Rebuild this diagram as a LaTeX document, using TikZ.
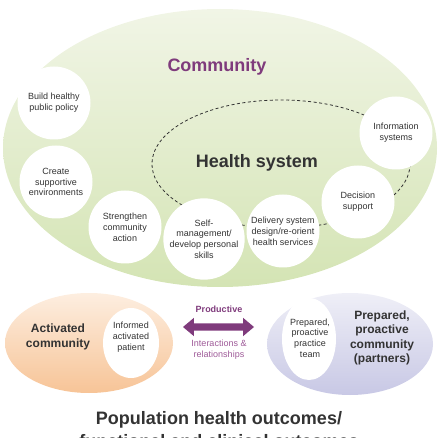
\documentclass[tikz,border=0pt]{standalone}
\usepackage{fontspec}
\setmainfont{Liberation Sans}
\usepackage{xcolor}
\usetikzlibrary{shapes.geometric,shapes.arrows}

\definecolor{plum}{HTML}{7F3B7C}
\definecolor{plumsoft}{HTML}{9E5A98}
\definecolor{ink}{HTML}{333333}
\definecolor{grtop}{HTML}{F1F5E6}
\definecolor{grbot}{HTML}{D4E4B4}
\definecolor{ortop}{HTML}{FDEEE0}
\definecolor{orbot}{HTML}{F7C497}
\definecolor{lvtop}{HTML}{EFEFF7}
\definecolor{lvbot}{HTML}{C8C8E5}

\begin{document}
\begin{tikzpicture}[x=1pt, y=-1pt,
        blob/.style={circle, fill=white, minimum size=73pt, inner sep=1pt, align=center, text=ink, font=\fontsize{9}{10.8}\selectfont},
        head/.style={font=\bfseries\fontsize{18}{21}\selectfont, text=ink, align=center},
        sub/.style={font=\bfseries\fontsize{12}{14.5}\selectfont, text=ink, align=center},
        small/.style={font=\fontsize{9}{10.8}\selectfont, text=ink, align=center},
        pool/.style={ellipse, inner sep=0pt},
    ]
        \useasboundingbox (0,0) rectangle (439,438);
        \node[pool, minimum width=434, minimum height=278, top color=grtop, bottom color=grbot] (comm) at (220,148) {};
        \node[head, text=plum] (commtitle) at (217,67) {Community};
        \draw[ink, line width=0.8pt, dash pattern=on 3pt off 2.5pt] (281,164) ellipse [x radius=129, y radius=64];
        \node[head] (hstitle) at (257,163) {Health system};
        \node[blob] (policy)  at (54,103)  {Build healthy\\public policy};
        \node[blob] (support) at (56,182)  {Create\\supportive\\environments};
        \node[blob] (action)  at (125,227) {Strengthen\\community\\action};
        \node[blob] (skills)  at (204,239) {Self-\\management/\\develop personal\\skills};
        \node[blob] (deliver) at (283,231) {Delivery system\\design/re-orient\\health services};
        \node[blob] (decide)  at (358,202) {Decision\\support};
        \node[blob] (info)    at (396,133) {Information\\systems};

        \node[pool, minimum width=168, minimum height=100, top color=ortop, bottom color=orbot] (active) at (89,343) {};
        \node[pool, fill=white, minimum width=56, minimum height=70] (patient) at (131,343) {};
        \node[small] (patienttxt) at (131,337) {Informed\\activated\\patient};
        \node[sub] (activetxt) at (58,337) {Activated\\community};

        \node[pool, minimum width=166, minimum height=102, top color=lvtop, bottom color=lvbot] (prep) at (350,344) {};
        \node[pool, fill=white, minimum width=54, minimum height=82] (team) at (309,339) {};
        \node[small] (teamtxt) at (310,338) {Prepared,\\proactive\\practice\\team};
        \node[sub] (preptxt) at (382,338) {Prepared,\\proactive\\community\\(partners)};

        \node[double arrow, fill=plum, minimum height=71, minimum width=18, inner sep=3.5pt,
            double arrow head extend=5.5pt, double arrow tip angle=80] (link) at (218.5,327) {};
        \node[font=\bfseries\fontsize{9}{10.8}\selectfont, text=plum] (linktop) at (219,309) {Productive};
        \node[small, text=plumsoft] (linkbot) at (219,349.5) {Interactions \&\\relationships};

        \node[head, font=\bfseries\fontsize{18}{23}\selectfont] (outcome) at (219,429.5) {Population health outcomes/\\functional and clinical outcomes};
    \end{tikzpicture}
\end{document}
